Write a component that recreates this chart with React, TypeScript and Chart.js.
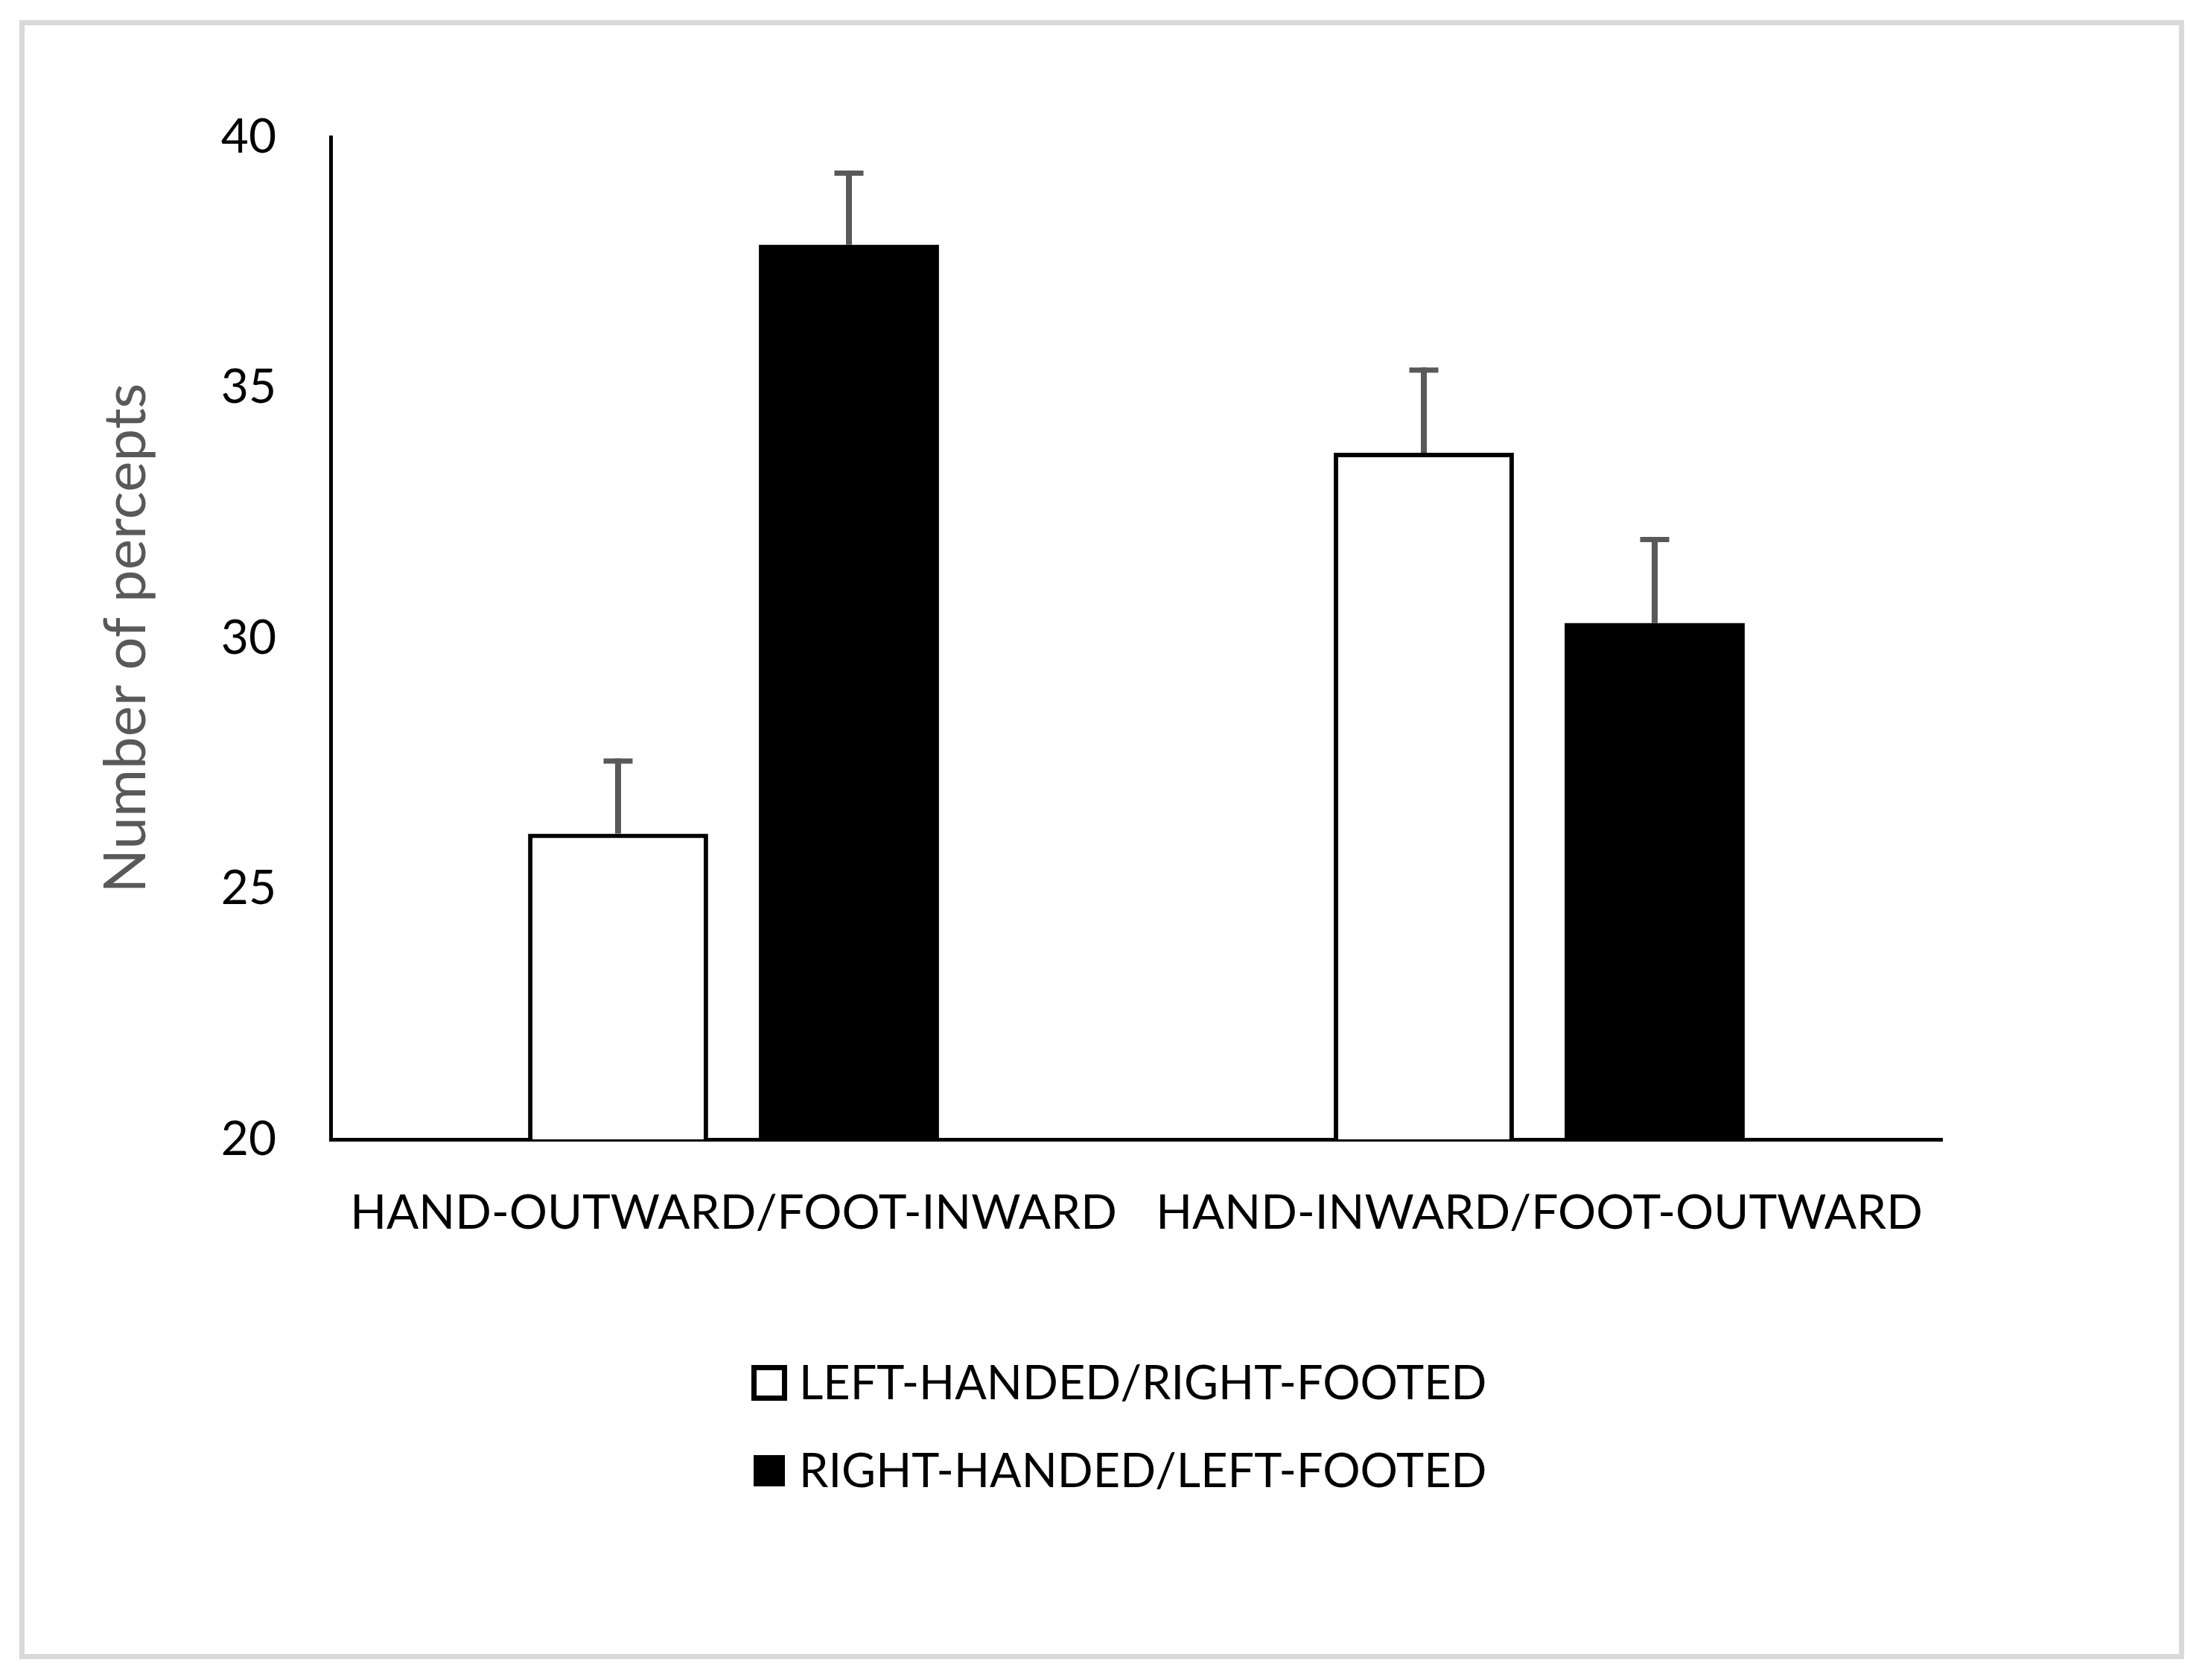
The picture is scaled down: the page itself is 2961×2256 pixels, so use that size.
import React, { useEffect, useRef } from 'react';
import { Chart, registerables } from 'chart.js';

Chart.register(...registerables);

// ---- data ----
const categories = ['HAND-OUTWARD/FOOT-INWARD', 'HAND-INWARD/FOOT-OUTWARD'];
const seriesNames = ['LEFT-HANDED/RIGHT-FOOTED', 'RIGHT-HANDED/LEFT-FOOTED'];
const leftHandedValues = [26.1, 33.7];
const leftHandedErrors = [1.45, 1.65];
const rightHandedValues = [37.85, 30.3];
const rightHandedErrors = [1.43, 1.67];
const yTicks = [20, 25, 30, 35, 40];
const yAxisTitle = 'Number of percepts';

const FONT = 'Lato, "Open Sans", sans-serif';
const FONT_SIZE = 64;
const TITLE_SIZE = 78;
const LEGEND_SIZE = 63;

const errorBarPlugin = {
  id: 'errorBars',
  afterDatasetsDraw(chart: any) {
    const ctx = chart.ctx;
    const yScale = chart.scales.y;
    ctx.save();
    ctx.strokeStyle = '#595959';
    ctx.lineCap = 'butt';
    chart.data.datasets.forEach((ds: any, i: number) => {
      const meta = chart.getDatasetMeta(i);
      meta.data.forEach((bar: any, j: number) => {
        const v = ds.data[j];
        const e = ds.errors[j];
        const yTop = yScale.getPixelForValue(v + e);
        const yBase = yScale.getPixelForValue(v);
        ctx.lineWidth = 8;
        ctx.beginPath();
        ctx.moveTo(bar.x, yBase);
        ctx.lineTo(bar.x, yTop - 3.5);
        ctx.stroke();
        ctx.lineWidth = 7;
        ctx.beginPath();
        ctx.moveTo(bar.x - 19.5, yTop);
        ctx.lineTo(bar.x + 19.5, yTop);
        ctx.stroke();
      });
    });
    ctx.restore();
  },
};

const stackedLegendPlugin = {
  id: 'stackedLegend',
  afterDraw(chart: any) {
    const ctx = chart.ctx;
    const boxLeft = 1009;
    const boxSize = 48;
    const border = 7;
    const textX = 1073;
    const rowCenters = [1857, 1975];
    ctx.save();
    ctx.font = `${LEGEND_SIZE}px ${FONT}`;
    ctx.textBaseline = 'middle';
    ctx.textAlign = 'left';
    chart.data.datasets.forEach((ds: any, i: number) => {
      const cy = rowCenters[i];
      if (ds.backgroundColor === '#ffffff') {
        ctx.fillStyle = '#000000';
        ctx.fillRect(boxLeft, cy - boxSize / 2, boxSize, boxSize);
        ctx.fillStyle = '#ffffff';
        ctx.fillRect(boxLeft + border, cy - boxSize / 2 + border, boxSize - 2 * border, boxSize - 2 * border);
      } else {
        ctx.fillStyle = '#000000';
        ctx.fillRect(boxLeft + 3, cy - boxSize / 2 + 3, boxSize - 6, boxSize - 6);
      }
      ctx.fillStyle = '#000000';
      ctx.fillText(ds.label, textX, cy + 2);
    });
    ctx.restore();
  },
};

export default function App() {
  const canvasRef = useRef<HTMLCanvasElement | null>(null);

  useEffect(() => {
    let chart: Chart | null = null;
    let cancelled = false;
    const build = () => {
      if (cancelled || !canvasRef.current) return;
      const font = { family: FONT, size: FONT_SIZE };
      chart = new Chart(canvasRef.current, {
        type: 'bar',
        data: {
          labels: categories,
          datasets: [
            {
              label: seriesNames[0],
              data: leftHandedValues,
              errors: leftHandedErrors,
              backgroundColor: '#ffffff',
              borderColor: '#000000',
              borderWidth: 6,
              borderSkipped: false,
              categoryPercentage: 0.573,
              barPercentage: 0.78,
            } as any,
            {
              label: seriesNames[1],
              data: rightHandedValues,
              errors: rightHandedErrors,
              backgroundColor: '#000000',
              borderWidth: 0,
              categoryPercentage: 0.573,
              barPercentage: 0.78,
            } as any,
          ],
        },
        options: {
          responsive: false,
          animation: false,
          devicePixelRatio: 1,
          layout: { padding: { left: 123, right: 353, top: 184, bottom: 526 } },
          plugins: {
            legend: { display: false },
            tooltip: { enabled: false },
            title: { display: false },
          },
          scales: {
            x: {
              grid: { display: false, drawTicks: false },
              border: { display: true, color: '#000000', width: 5 },
              ticks: {
                color: '#000000',
                font,
                padding: 61,
                maxRotation: 0,
                minRotation: 0,
                autoSkip: false,
              },
              afterFit: (s: any) => {
                s.height = 200;
              },
            },
            y: {
              min: yTicks[0],
              max: yTicks[yTicks.length - 1],
              grid: { display: false, drawTicks: false },
              border: { display: true, color: '#000000', width: 5 },
              ticks: {
                stepSize: yTicks[1] - yTicks[0],
                color: '#000000',
                font,
                padding: 73,
              },
              title: {
                display: true,
                text: yAxisTitle,
                color: '#595959',
                font: { family: FONT, size: TITLE_SIZE },
                padding: 0,
              },
              afterFit: (s: any) => {
                s.width = 321;
              },
            },
          },
        } as any,
        plugins: [errorBarPlugin, stackedLegendPlugin],
      });
    };
    const fontsApi = (document as any).fonts;
    if (fontsApi && fontsApi.load) {
      fontsApi.load(`${FONT_SIZE}px Lato`).then(build, build);
    } else {
      build();
    }
    return () => {
      cancelled = true;
      if (chart) chart.destroy();
    };
  }, []);

  return (
    <div
      style={{
        position: 'fixed',
        left: 0,
        top: 0,
        width: 2961,
        height: 2256,
        background: '#ffffff',
        overflow: 'hidden',
      }}
    >
      <div
        style={{
          position: 'absolute',
          left: 26,
          top: 27,
          width: 2907,
          height: 2201,
          boxSizing: 'border-box',
          border: '7px solid #d9d9d9',
        }}
      />
      <canvas
        ref={canvasRef}
        width={2961}
        height={2256}
        style={{ position: 'absolute', left: 0, top: 0, width: 2961, height: 2256, display: 'block' }}
      />
    </div>
  );
}
